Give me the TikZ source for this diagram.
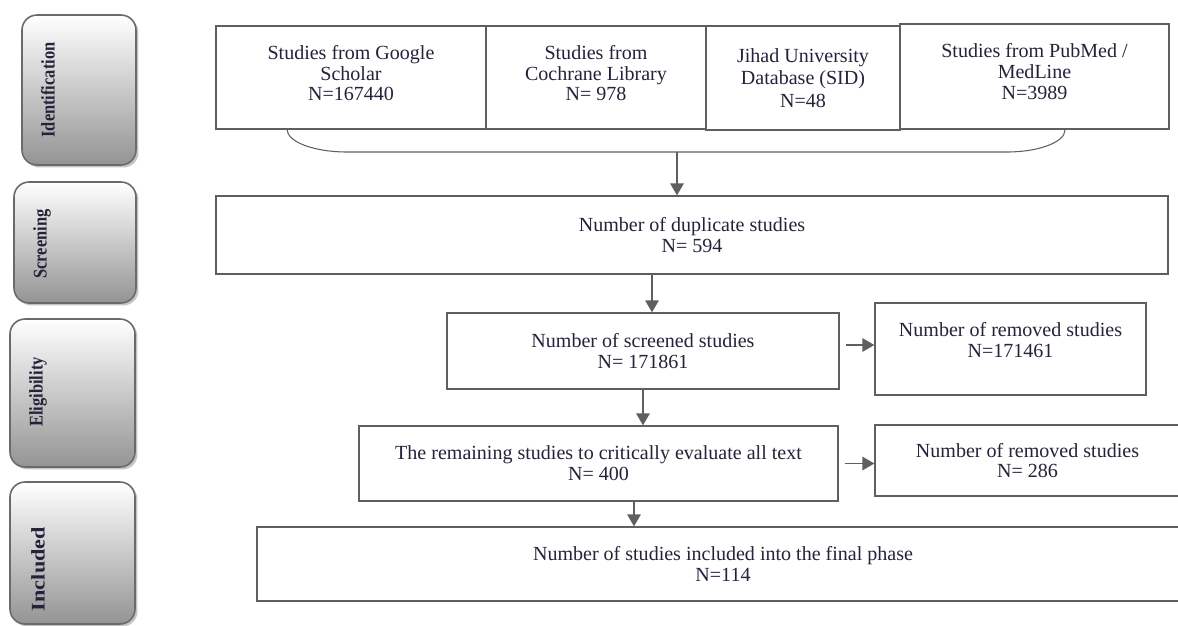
\documentclass[tikz,border=0pt]{standalone}
\usepackage{fontspec}
\setmainfont{Liberation Serif}
\usetikzlibrary{arrows.meta,shadows}
\definecolor{boxline}{HTML}{5F5F5F}
\definecolor{inktext}{HTML}{23233A}
\definecolor{phaseline}{HTML}{6A6A6A}

\begin{document}
\begin{tikzpicture}[x=0.02cm,y=-0.02cm,
  studybox/.style={draw=boxline,line width=0.75pt,inner sep=0pt,align=center,text=inktext,
    font=\fontsize{11.4}{11.8}\selectfont},
  phasebox/.style={draw=phaseline,line width=0.9pt,rounded corners=0.3cm,top color=white,bottom color=black!42,
    drop shadow={shadow xshift=0.05cm,shadow yshift=-0.05cm,fill=black!50,opacity=0.45}},
  phasetext/.style={rotate=90,text=inktext,font=\fontsize{11}{12}\selectfont\bfseries},
  flow/.style={draw=boxline,line width=0.8pt,-{Triangle[width=0.27cm,length=0.24cm]}}]
  \path[use as bounding box,fill=white] (0,0) rectangle (1178,626);

  % phases
  \node[phasebox,minimum width=2.28cm,minimum height=3cm] (idf) at (79,90) {};
  \node[phasebox,minimum width=2.44cm,minimum height=2.42cm] (scr-p) at (75,242.5) {};
  \node[phasebox,minimum width=2.5cm,minimum height=2.96cm] (elg) at (72.5,393) {};
  \node[phasebox,minimum width=2.5cm,minimum height=2.84cm] (inc-p) at (72.5,553) {};
  \node[phasetext] (idf-t) at (48,90) {\scalebox{0.85}[1]{Identification}};
  \node[phasetext] (scr-t) at (42,244) {\scalebox{0.85}[1]{Screening}};
  \node[phasetext] (elg-t) at (38,392) {\scalebox{0.85}[1]{Eligibility}};
  \node[phasetext] (inc-t) at (38,569) {\scalebox{1.15}[1]{Included}};

  % sources
  \node[studybox,minimum width=5.4cm,minimum height=2.06cm,text depth=5pt] (gs) at (351,77.5) {Studies from Google\\Scholar\\N=167440};
  \node[studybox,minimum width=4.4cm,minimum height=2.06cm,text depth=5pt] (cl) at (596,77.5) {Studies from\\Cochrane Library\\N= 978};
  \node[studybox,minimum width=3.88cm,minimum height=2.08cm,font=\fontsize{11.4}{12.9}\selectfont] (sid) at (803,78) {Jihad University\\Database (SID)\\N=48};
  \node[studybox,minimum width=5.38cm,minimum height=2.1cm,text depth=6pt] (pm) at (1034.5,76.5) {Studies from PubMed /\\MedLine\\N=3989};

  \coordinate (bracel) at (287,129);
  \coordinate (bracer) at (1065,130);
  \coordinate (bracem) at (677,152);
  \draw[boxline,line width=0.6pt] (bracel) .. controls (287,142) and (314,152) .. (347,152) -- (1007,152)
    .. controls (1039,152) and (1065,142) .. (bracer);

  % flow
  \node[studybox,minimum width=19.04cm,minimum height=1.56cm] (dup) at (692,235) {Number of duplicate studies\\N= 594};
  \node[studybox,minimum width=7.84cm,minimum height=1.52cm] (scr) at (643,351) {Number of screened studies\\N= 171861};
  \node[studybox,minimum width=5.42cm,minimum height=1.84cm,text depth=10pt] (rm1) at (1010.5,349) {Number of removed studies\\N=171461};
  \node[studybox,minimum width=9.58cm,minimum height=1.5cm] (rem) at (598.5,463.5) {The remaining studies to critically evaluate all text\\N= 400};
  \node[studybox,minimum width=6.1cm,minimum height=1.42cm] (rm2) at (1027.5,460.5) {Number of removed studies\\N= 286};
  \node[studybox,minimum width=18.64cm,minimum height=1.48cm] (inc) at (723,564) {Number of studies included into the final phase\\N=114};

  \draw[flow] (bracem) -- (bracem |- dup.north);
  \draw[flow] ([xshift=0.18cm]dup.south -| scr.north) -- ([xshift=0.18cm]scr.north);
  \draw[flow] (scr.south) -- (scr.south |- rem.north);
  \draw[flow,shorten <=0.12cm] ([yshift=0.12cm]scr.east) -- ([yshift=0.12cm]scr.east -| rm1.west);
  \draw[flow,shorten <=0.12cm] (rem.east) -- (rem.east -| rm2.west);
  \draw[flow] ([xshift=0.71cm]rem.south) -- ([xshift=0.71cm]rem.south |- inc.north);
\end{tikzpicture}
\end{document}
